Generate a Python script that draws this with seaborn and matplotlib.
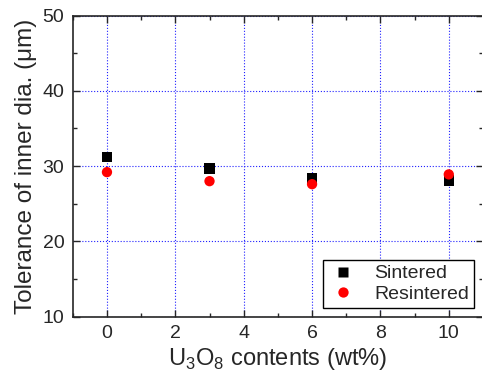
import pandas as pd
import numpy as np
import seaborn as sns
import matplotlib.pyplot as plt
from matplotlib.ticker import MultipleLocator

# U3O8 content (wt%) and inner diameter tolerance (um)
u3o8 = [0, 3, 6, 10]
sintered = [31.2, 29.7, 28.4, 28.1]
resintered = [29.2, 28.0, 27.6, 28.9]

df = pd.DataFrame({"U3O8": u3o8 * 2,
                   "Tolerance": sintered + resintered,
                   "Sample": ["Sintered"] * 4 + ["Resintered"] * 4})

sns.set_style("ticks")
plt.rcParams['font.family'] = ['Liberation Sans', 'DejaVu Sans']
plt.rcParams['mathtext.fontset'] = 'custom'
plt.rcParams['mathtext.rm'] = 'Liberation Sans'

fig = plt.figure(figsize=(4.82, 3.81), dpi=100)
ax = fig.add_axes([0.151, 0.169, 0.851, 0.790])

ax = sns.scatterplot(x="U3O8", y="Tolerance", hue="Sample", style="Sample", data=df,
                     palette={"Sintered": "black", "Resintered": "red"},
                     markers={"Sintered": "s", "Resintered": "o"},
                     s=55, edgecolor="none", ax=ax, zorder=3)

ax.set_xlim(-1, 11)
ax.set_ylim(10, 50)
ax.xaxis.set_major_locator(MultipleLocator(2))
ax.xaxis.set_minor_locator(MultipleLocator(1))
ax.yaxis.set_major_locator(MultipleLocator(10))
ax.yaxis.set_minor_locator(MultipleLocator(5))
ax.tick_params(which="both", direction="in", top=True, right=True, labelsize=14, width=1)
ax.tick_params(which="major", length=5, pad=6)
ax.tick_params(which="minor", length=3)
for sp in ax.spines.values():
    sp.set_linewidth(1.2)

ax.grid(True, which="major", color="#2020ff", linestyle=":", linewidth=0.8)

ax.set_xlabel(r"U$_3$O$_8$ contents (wt%)", fontsize=17, labelpad=3)
ax.set_ylabel(u"Tolerance of inner dia. (\u03bcm)", fontsize=17.5, labelpad=4)

leg = ax.legend(loc="lower right", fontsize=14, frameon=True, fancybox=False,
                edgecolor="black", labelspacing=0.15, borderpad=0.25,
                handletextpad=0.8, handlelength=1.6, borderaxespad=0.45)
leg.get_frame().set_linewidth(1.0)
leg.get_frame().set_alpha(1)

plt.savefig("out.png", dpi=100)
